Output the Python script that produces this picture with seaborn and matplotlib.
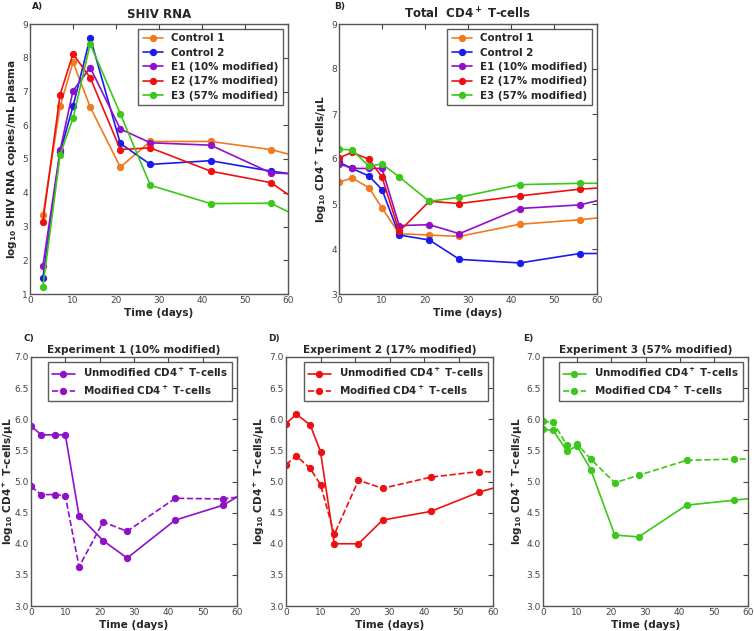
import numpy as np
import pandas as pd
import matplotlib
matplotlib.use("Agg")
import matplotlib.pyplot as plt
import seaborn as sns

# ---------------- data ----------------
days_rna = [3, 7, 10, 14, 21, 28, 42, 56, 63]
rna_control1 = [3.33, 6.56, 7.87, 6.54, 4.76, 5.52, 5.52, 5.28, 5.05]
rna_control2 = [1.46, 5.20, 6.56, 8.60, 5.46, 4.84, 4.95, 4.64, 4.52]
rna_e1 = [1.83, 5.26, 7.02, 7.71, 5.89, 5.48, 5.41, 4.59, 4.55]
rna_e2 = [3.14, 6.91, 8.11, 7.41, 5.28, 5.33, 4.64, 4.30, 3.69]
rna_e3 = [1.22, 5.12, 6.21, 8.41, 6.34, 4.22, 3.68, 3.69, 3.25]

days_cd4 = [0, 3, 7, 10, 14, 21, 28, 42, 56, 63]
cd4_control1 = [5.48, 5.58, 5.36, 4.91, 4.34, 4.31, 4.28, 4.55, 4.65, 4.72]
cd4_control2 = [5.93, 5.79, 5.62, 5.32, 4.31, 4.20, 3.77, 3.69, 3.90, 3.90]
cd4_e1 = [5.90, 5.79, 5.79, 5.79, 4.52, 4.54, 4.34, 4.90, 4.98, 5.14]
cd4_e2 = [6.02, 6.15, 5.99, 5.60, 4.39, 5.06, 5.01, 5.18, 5.33, 5.37]
cd4_e3 = [6.22, 6.20, 5.84, 5.89, 5.60, 5.06, 5.15, 5.43, 5.46, 5.46]

e1_unmod = [5.89, 5.75, 5.75, 5.75, 4.45, 4.05, 3.77, 4.38, 4.62, 4.85]
e1_mod = [4.92, 4.79, 4.79, 4.77, 3.63, 4.35, 4.20, 4.73, 4.72, 4.77]
e2_unmod = [5.93, 6.08, 5.91, 5.48, 4.00, 4.00, 4.38, 4.52, 4.83, 4.94]
e2_mod = [5.27, 5.41, 5.21, 4.95, 4.15, 5.02, 4.89, 5.07, 5.16, 5.15]
e3_unmod = [5.84, 5.82, 5.49, 5.57, 5.19, 4.14, 4.11, 4.62, 4.70, 4.74]
e3_mod = [5.97, 5.95, 5.58, 5.60, 5.36, 4.98, 5.10, 5.34, 5.36, 5.36]

group_names = ["Control 1", "Control 2", "E1 (10% modified)",
               "E2 (17% modified)", "E3 (57% modified)"]
group_colors = ["#f07a1e", "#1a1aee", "#9010c8", "#ee1010", "#3cc81a"]

# ---------------- style ----------------
sns.set_style("white")
plt.rcParams.update({
    "font.family": ["DejaVu Sans"],
    "xtick.direction": "in",
    "ytick.direction": "in",
    "xtick.top": True,
    "ytick.right": True,
    "xtick.major.size": 3.5,
    "ytick.major.size": 3.5,
    "xtick.labelsize": 6.5,
    "ytick.labelsize": 6.5,
    "xtick.color": "#444444",
    "ytick.color": "#444444",
    "axes.edgecolor": "#555555",
    "axes.linewidth": 1.0,
    "mathtext.default": "regular",
})

fig = plt.figure(figsize=(7.54, 6.31), dpi=100)

def make_ax(l, r, b, t):
    return fig.add_axes([l / 754, 1 - b / 631, (r - l) / 754, (b - t) / 631])

axA = make_ax(30, 288, 294, 24)
axB = make_ax(339, 597, 294, 24)
axC = make_ax(31, 237, 606, 357)
axD = make_ax(286, 493, 606, 357)
axE = make_ax(543, 748, 606, 357)

lw = 1.2
ms = 4.5
FS_LAB = 7.6
FS_LEG = 7.4

def series(ax, x, y, color, label, ls="-"):
    df = pd.DataFrame({"day": x, "val": y})
    sns.lineplot(data=df, x="day", y="val", ax=ax, color=color, marker="o",
                 markersize=ms, markeredgecolor=color, linewidth=lw,
                 linestyle=ls, label=label, sort=False, legend=False)

def style_legend(ax, handlelength):
    leg = ax.legend(loc="upper right", prop={"weight": "bold", "size": FS_LEG},
                    fancybox=False, frameon=True, borderaxespad=0.5,
                    handlelength=handlelength, labelspacing=0.42, borderpad=0.4,
                    handletextpad=0.8)
    leg.get_frame().set_edgecolor("#333333")
    leg.get_frame().set_linewidth(1.0)

# Panel A
for vals, name, col in zip([rna_control1, rna_control2, rna_e1, rna_e2, rna_e3],
                           group_names, group_colors):
    series(axA, days_rna, vals, col, name)
axA.set_xlim(0, 60)
axA.set_ylim(1, 9)
axA.set_xticks(range(0, 61, 10))
axA.set_yticks(range(1, 10))
axA.set_title("SHIV RNA", fontsize=8.5, fontweight="bold", pad=4)
axA.set_ylabel(r"log$_{10}$ SHIV RNA copies/mL plasma", fontsize=FS_LAB, fontweight="bold")
axA.yaxis.set_label_coords(-0.043, 0.5)

# Panel B
for vals, name, col in zip([cd4_control1, cd4_control2, cd4_e1, cd4_e2, cd4_e3],
                           group_names, group_colors):
    series(axB, days_cd4, vals, col, name)
axB.set_xlim(0, 60)
axB.set_ylim(3, 9)
axB.set_xticks(range(0, 61, 10))
axB.set_yticks(range(3, 10))
axB.set_title(r"Total  CD4$^+$ T-cells", fontsize=8.5, fontweight="bold", pad=4)
axB.set_ylabel(r"log$_{10}$ CD4$^+$ T-cells/$\mu$L", fontsize=FS_LAB, fontweight="bold")
axB.yaxis.set_label_coords(-0.039, 0.5)

for ax in (axA, axB):
    ax.set_xlabel("Time (days)", fontsize=FS_LAB, fontweight="bold", labelpad=2)
    style_legend(ax, 2.0)

# Panels C-E
exp_titles = ["Experiment 1 (10% modified)", "Experiment 2 (17% modified)",
              "Experiment 3 (57% modified)"]
label_x = [-0.073, -0.092, -0.088]
for ax, un, mo, col, title, lx in zip([axC, axD, axE], [e1_unmod, e2_unmod, e3_unmod],
                                      [e1_mod, e2_mod, e3_mod],
                                      [group_colors[2], group_colors[3], group_colors[4]],
                                      exp_titles, label_x):
    series(ax, days_cd4, un, col, r"Unmodified CD4$^+$ T-cells", "-")
    series(ax, days_cd4, mo, col, r"Modified CD4$^+$ T-cells", "--")
    ax.set_xlim(0, 60)
    ax.set_ylim(3.0, 7.0)
    ax.set_xticks(range(0, 61, 10))
    ticks = np.arange(3.0, 7.01, 0.5)
    ax.set_yticks(ticks)
    ax.set_yticklabels([f"{v:.1f}" for v in ticks])
    ax.set_title(title, fontsize=7.6, fontweight="bold", pad=3)
    ax.set_xlabel("Time (days)", fontsize=FS_LAB, fontweight="bold", labelpad=2)
    ax.set_ylabel(r"log$_{10}$ CD4$^+$ T-cells/$\mu$L", fontsize=FS_LAB, fontweight="bold")
    ax.yaxis.set_label_coords(lx, 0.5)
    style_legend(ax, 2.2)

for ax in (axA, axB, axC, axD, axE):
    ax.tick_params(pad=1.5)
    for sp in ax.spines.values():
        sp.set_visible(True)

# Panel letters
fig.text(32 / 754, 1 - 6 / 631, "A)", fontsize=6.5, fontweight="bold", va="center")
fig.text(334 / 754, 1 - 6 / 631, "B)", fontsize=6.5, fontweight="bold", va="center")
fig.text(23 / 754, 1 - 338 / 631, "C)", fontsize=6.5, fontweight="bold", va="center")
fig.text(268 / 754, 1 - 338 / 631, "D)", fontsize=6.5, fontweight="bold", va="center")
fig.text(523 / 754, 1 - 338 / 631, "E)", fontsize=6.5, fontweight="bold", va="center")

fig.savefig("out.png", dpi=100)
